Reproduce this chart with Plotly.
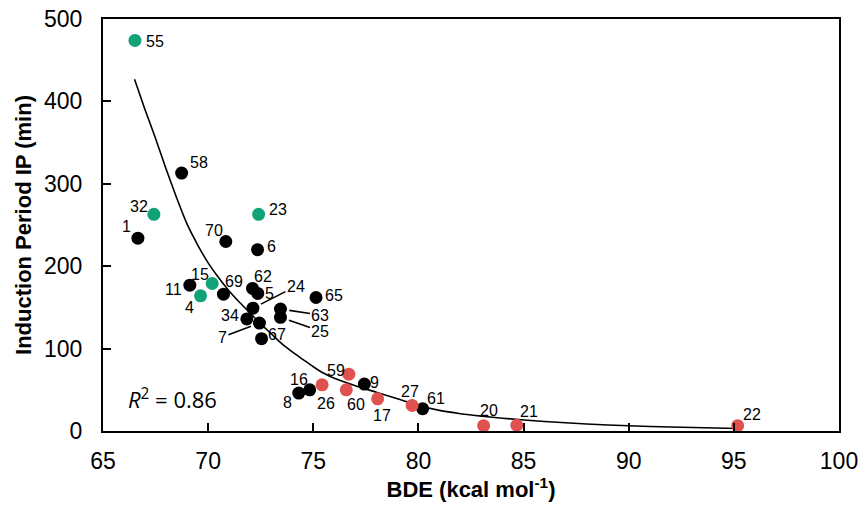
import plotly.graph_objects as go

# ---------------- data ----------------
black_ids = ["1", "58", "70", "6", "11", "69", "62", "5", "24", "65", "63", "25",
             "34", "7", "67", "8", "16", "9", "61"]
black_bde = [66.66, 68.74, 70.84, 72.35, 69.13, 70.73, 72.11, 72.36, 72.13, 75.13,
             73.44, 73.44, 71.84, 72.44, 72.54, 74.31, 74.83, 77.43, 80.20]
black_ip = [234, 313, 230, 220, 177, 166, 173, 167, 149, 162,
            148, 138, 136, 131, 112, 46, 50, 57, 27]

green_ids = ["55", "32", "23", "15", "4"]
green_bde = [66.52, 67.42, 72.40, 70.19, 69.64]
green_ip = [474, 263, 263, 179, 164]

red_ids = ["26", "59", "60", "17", "27", "20", "21", "22"]
red_bde = [75.42, 76.69, 76.57, 78.06, 79.70, 83.10, 84.68, 95.18]
red_ip = [56, 69, 50, 39, 31, 6.5, 7, 6.5]

# fitted trend curve
curve_bde = [66.5, 67.0, 67.5, 68.0, 68.5, 69.0, 69.5, 70.0, 70.5, 71.0,
             71.5, 72.0, 72.5, 73.0, 73.5, 74.0, 74.5, 75.0, 75.5, 76.0,
             77.0, 78.0, 79.0, 80.0, 81.0, 82.0, 83.0, 84.0, 86.0, 88.0,
             90.0, 92.0, 95.2]
curve_ip = [427, 390, 355, 318, 283, 251, 226, 204, 186, 170,
            156, 143, 130, 118, 106, 96, 87, 78, 70, 64,
            55, 47, 39, 31, 25, 21, 18, 15.5, 11.5, 8.5,
            6.3, 4.8, 3]

x_ticks = [65, 70, 75, 80, 85, 90, 95, 100]
y_ticks = [0, 100, 200, 300, 400, 500]
r2_text = "<i>R</i><sup>2</sup> = 0.86"

# label offsets (pixels) and leader-line offsets: style only
label_offset = {
    "55": (20, 1), "58": (17, -11), "32": (-15, -8), "1": (-11, -12), "70": (-12, -11),
    "23": (19, -5), "6": (14, -3), "15": (-12, -9), "11": (-16, 4), "4": (-11, 12),
    "69": (11, -13), "62": (10, -12), "5": (12, 0), "65": (18, -2), "34": (-17, -3),
    "67": (15, -4), "16": (-11, -10), "8": (-11, 9), "26": (4, 19), "59": (-13, -4),
    "60": (10, 15), "9": (10, -2), "17": (4, 17), "27": (-2, -14), "61": (13, -10),
    "20": (5, -15), "21": (12, -14), "22": (14, -11),
}
leader_offset = {"24": (43, -22), "63": (40, 6), "25": (40, 14), "7": (-37, 14)}

GREEN = "#12a278"
RED = "#e0524f"
FONT = "Liberation Sans, Arial, sans-serif"

fig = go.Figure()
fig.add_trace(go.Scatter(x=curve_bde, y=curve_ip, mode="lines", line_shape="spline",
                         line=dict(color="black", width=1.6, smoothing=0.6), hoverinfo="skip"))
fig.add_trace(go.Scatter(x=black_bde, y=black_ip, mode="markers", text=black_ids,
                         marker=dict(color="black", size=13, line=dict(width=0))))
fig.add_trace(go.Scatter(x=green_bde, y=green_ip, mode="markers", text=green_ids,
                         marker=dict(color=GREEN, size=13, line=dict(width=0))))
fig.add_trace(go.Scatter(x=red_bde, y=red_ip, mode="markers", text=red_ids,
                         marker=dict(color=RED, size=13, line=dict(width=0))))

all_pts = list(zip(black_ids, black_bde, black_ip)) + \
    list(zip(green_ids, green_bde, green_ip)) + list(zip(red_ids, red_bde, red_ip))

for pid, bx, iy in all_pts:
    if pid in leader_offset:
        ax, ay = leader_offset[pid]
        fig.add_annotation(x=bx, y=iy, text=pid, showarrow=True, arrowhead=0,
                           arrowwidth=1.6, arrowcolor="black", ax=ax, ay=ay,
                           standoff=9, font=dict(size=16, color="black", family=FONT))
    else:
        dx, dy = label_offset[pid]
        fig.add_annotation(x=bx, y=iy, text=pid, showarrow=False, xshift=dx, yshift=-dy,
                           font=dict(size=16, color="black", family=FONT))

fig.add_annotation(x=66.1, y=40, text=r2_text, showarrow=False, xanchor="left",
                   font=dict(size=22, color="black", family="Open Sans, sans-serif"))

fig.update_layout(
    width=861, height=510,
    margin=dict(l=103, r=22, t=19, b=79),
    paper_bgcolor="white", plot_bgcolor="white",
    showlegend=False,
    font=dict(family=FONT, color="black"),
)
fig.update_xaxes(range=[65, 100], tickvals=x_ticks, ticktext=[str(v) for v in x_ticks],
                 automargin=False, ticklabeloverflow="allow",
                 showgrid=False, zeroline=False, showline=True, linecolor="black",
                 linewidth=2, mirror=True, ticks="inside", ticklen=8, tickwidth=1.5,
                 tickcolor="black", tickfont=dict(size=23, family=FONT),
                 ticklabelstandoff=8,
                 title=dict(text="<b>BDE (kcal mol<sup>-1</sup>)</b>", standoff=4,
                            font=dict(size=22, family=FONT)))
fig.update_yaxes(range=[0, 500], tickvals=y_ticks, ticktext=[str(v) for v in y_ticks],
                 automargin=False, ticklabeloverflow="allow",
                 showgrid=False, zeroline=False, showline=True, linecolor="black",
                 linewidth=2, mirror=True, ticks="inside", ticklen=8, tickwidth=1.5,
                 tickcolor="black", tickfont=dict(size=23, family=FONT),
                 ticklabelstandoff=14,
                 title=dict(text="<b>Induction Period IP (min)</b>", standoff=6,
                            font=dict(size=22, family=FONT)))

fig.write_html("out.html", config={"displayModeBar": False},
               post_script="document.body.style.margin='0';")
